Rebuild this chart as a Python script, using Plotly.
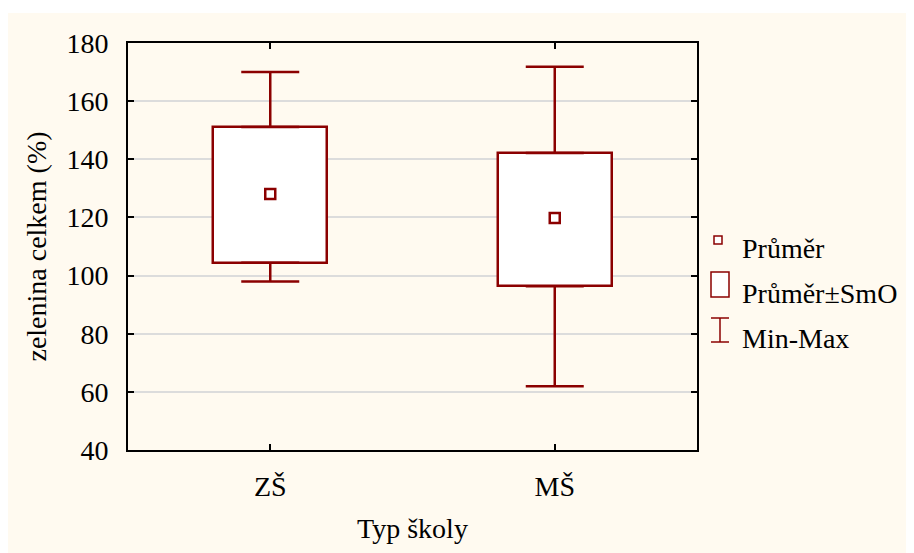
import plotly.graph_objects as go

# ---- data ----
categories = ["ZŠ", "MŠ"]
mean_vals = [128.1, 119.8]
sd_low = [104.4, 96.3]
sd_high = [151.1, 142.2]
min_vals = [98.0, 61.9]
max_vals = [170.0, 171.8]
y_ticks = [40, 60, 80, 100, 120, 140, 160, 180]
legend_labels = ["Průměr", "Průměr±SmO", "Min-Max"]

RED = "#8B0000"
CREAM = "#FFFAF0"
FONT = "Liberation Serif, Times New Roman, serif"

W, H = 914, 553
OFF = 8  # page body margin
# target plot area in screen pixels
SX0, SX1, SY0, SY1 = 128, 697, 43, 450
L, T = SX0 - OFF, SY0 - OFF
R, B = W - (SX1 - OFF), H - (SY1 - OFF)
PW, PH = W - L - R, H - T - B


def px(x):
    return (x - OFF - L) / PW


def py(y):
    return (H - B - (y - OFF)) / PH


fig = go.Figure()

# box (mean ± SD)
fig.add_trace(go.Bar(
    x=categories,
    base=sd_low,
    y=[h - l for h, l in zip(sd_high, sd_low)],
    width=0.4,
    marker=dict(color="white", line=dict(color=RED, width=2.5)),
    showlegend=False, hoverinfo="skip",
))

# upper whisker
fig.add_trace(go.Scatter(
    x=categories, y=sd_high, mode="markers",
    marker=dict(size=1, color="rgba(0,0,0,0)"),
    error_y=dict(type="data", symmetric=False,
                 array=[m - h for m, h in zip(max_vals, sd_high)],
                 arrayminus=[0, 0], color=RED, thickness=2.5, width=29),
    showlegend=False, hoverinfo="skip",
))
# lower whisker
fig.add_trace(go.Scatter(
    x=categories, y=sd_low, mode="markers",
    marker=dict(size=1, color="rgba(0,0,0,0)"),
    error_y=dict(type="data", symmetric=False,
                 array=[0, 0],
                 arrayminus=[l - m for l, m in zip(sd_low, min_vals)],
                 color=RED, thickness=2.5, width=29),
    showlegend=False, hoverinfo="skip",
))
# mean marker
fig.add_trace(go.Scatter(
    x=categories, y=mean_vals, mode="markers",
    marker=dict(symbol="square", size=10, color="white",
                line=dict(color=RED, width=2.5)),
    showlegend=False,
))

shapes = [
    # cream background with a thin white margin on top
    dict(type="rect", xref="paper", yref="paper",
         x0=px(0), x1=px(W + 20), y0=py(H + 20), y1=py(13),
         fillcolor=CREAM, line=dict(width=0), layer="below"),
    # legend: mean square
    dict(type="rect", xref="paper", yref="paper",
         x0=px(714), x1=px(722), y0=py(244), y1=py(236),
         fillcolor="white", line=dict(color=RED, width=1.5)),
    # legend: box
    dict(type="rect", xref="paper", yref="paper",
         x0=px(711), x1=px(729), y0=py(297), y1=py(272),
         fillcolor="white", line=dict(color=RED, width=1.5)),
    # legend: whisker
    dict(type="line", xref="paper", yref="paper",
         x0=px(711), x1=px(729), y0=py(318), y1=py(318),
         line=dict(color=RED, width=1.5)),
    dict(type="line", xref="paper", yref="paper",
         x0=px(720), x1=px(720), y0=py(318), y1=py(342),
         line=dict(color=RED, width=1.5)),
    dict(type="line", xref="paper", yref="paper",
         x0=px(711), x1=px(729), y0=py(342), y1=py(342),
         line=dict(color=RED, width=1.5)),
]

annotations = []
for lbl, yc in zip(legend_labels, [248, 293, 338]):
    annotations.append(dict(
        text=lbl, xref="paper", yref="paper", x=px(740), y=py(yc),
        xanchor="left", yanchor="middle", showarrow=False,
        font=dict(family=FONT, size=28, color="black"),
    ))

fig.update_layout(
    width=W, height=H,
    margin=dict(l=L, r=R, t=T, b=B),
    paper_bgcolor="white",
    plot_bgcolor="white",
    font=dict(family=FONT, size=28, color="black"),
    shapes=shapes,
    annotations=annotations,
    showlegend=False,
    bargap=0,
)

fig.update_xaxes(
    type="category", range=[-0.5, 1.5],
    showline=True, linecolor="black", linewidth=2, mirror="ticks",
    ticks="inside", ticklen=6, tickwidth=2, tickcolor="black",
    showgrid=False, ticklabelstandoff=10,
    title=dict(text="Typ školy", standoff=18,
               font=dict(family=FONT, size=28)),
    tickfont=dict(family=FONT, size=28),
)
fig.update_yaxes(
    range=[40, 180], tickvals=y_ticks,
    showline=True, linecolor="black", linewidth=2, mirror="ticks",
    ticks="inside", ticklen=6, tickwidth=2, tickcolor="black",
    showgrid=True, gridcolor="#DCDCDC", gridwidth=2, zeroline=False,
    ticklabelstandoff=12,
    title=dict(text="zelenina celkem (%)", standoff=12,
               font=dict(family=FONT, size=28)),
    tickfont=dict(family=FONT, size=28),
)

fig.write_html("out.html")
